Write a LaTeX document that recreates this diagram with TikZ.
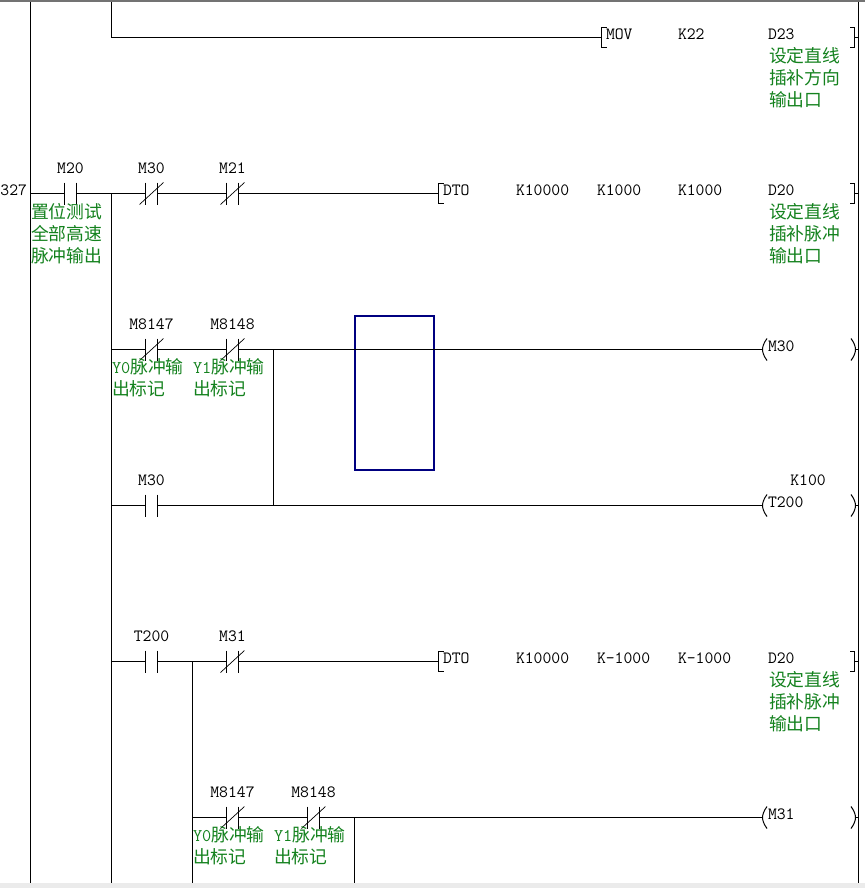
\documentclass[tikz,border=0pt]{standalone}
\usepackage{fontspec}
\newfontfamily\cjk{Noto Sans CJK SC}
\definecolor{note}{RGB}{20,130,30}
\definecolor{box}{RGB}{0,0,128}
\tikzset{
  wire/.style={line width=1pt,black},
  lbl/.style={font=\fontsize{17.2}{20}\ttfamily,inner sep=0pt,outer sep=0pt,text=black},
  cmt/.style={font=\fontsize{17.8}{22}\selectfont\cjk,text=note,inner sep=0pt,outer sep=0pt,align=left,anchor=west},
  cnt/.style={minimum width=12pt,minimum height=22pt,inner sep=0pt,outer sep=0pt}
}
% contact: name, x, y, label
\newcommand{\nocontact}[4]{
  \node [cnt] (#1) at (#2,#3) {};
  \draw [wire] (#1.north west) -- (#1.south west);
  \draw [wire] (#1.north east) -- (#1.south east);
  \node [lbl] (#1l) at (#2,#3-25) {#4};
}
\newcommand{\nccontact}[4]{
  \nocontact{#1}{#2}{#3}{#4}
  \draw [line width=0.7pt] ([xshift=-6pt]#1.south west) -- ([xshift=6pt]#1.north east);
}
% function box ends
\newcommand{\openbr}[3]{
  \coordinate (#1) at (#2,#3);
  \draw [wire] (#2+5,#3-10) -- (#2,#3-10) -- (#2,#3+10) -- (#2+5,#3+10);
}
\newcommand{\closebr}[1]{
  \draw [wire] (850,#1-10) -- (854.5,#1-10) -- (854.5,#1+10) -- (850,#1+10);
  \draw [wire] (854.5,#1) -- (858.5,#1);
}
\newcommand{\coil}[3]{
  \coordinate (#1) at (762.5,#2);
  \draw [wire] (767,#2-11) .. controls (764,#2-7) and (762.5,#2-3) .. (762.5,#2) .. controls (762.5,#2+3) and (764,#2+7) .. (767,#2+11);
  \draw [wire] (851,#2-11) .. controls (854,#2-7) and (855.5,#2-3) .. (855.5,#2) .. controls (855.5,#2+3) and (854,#2+7) .. (851,#2+11);
  \draw [wire] (855.5,#2) -- (858.5,#2);
  \node [lbl,anchor=west] (#1t) at (768,#2-3) {#3};
}
\begin{document}
\begin{tikzpicture}[x=1pt,y=-1pt]

\useasboundingbox (0,0) rectangle (865,888);
\fill [white] (0,0) rectangle (865,888);
\fill [black!55] (0,0) rectangle (865,2);
\fill [black!8] (0,883) rectangle (865,888);

% rails
\coordinate (railltop) at (30.5,2);
\coordinate (raillbot) at (30.5,883);
\coordinate (railrtop) at (858.5,2);
\coordinate (railrbot) at (858.5,883);
\draw [wire] (railltop) -- (raillbot);
\draw [wire] (railrtop) -- (railrbot);

% MOV rung
\coordinate (bustop) at (111.5,2);
\coordinate (buscorner) at (111.5,37.5);
\openbr{mov}{601.5}{37.5}
\draw [wire] (bustop) -- (buscorner) -- (mov);
\closebr{37.5}
\node [lbl,anchor=west] (movt) at (606,34) {MOV};
\node [lbl,anchor=west] (movs) at (678,34) {K22};
\node [lbl,anchor=west] (movd) at (768,34) {D23};
\node [cmt] (movc) at (769,78) {设定直线\\插补方向\\输出口};

% M20 rung
\node [lbl,anchor=east] (stepno) at (27,190) {327};
\coordinate (r2l) at (30.5,193.5);
\coordinate (r2j) at (111.5,193.5);
\coordinate (busbot) at (111.5,883);
\nocontact{mtwenty}{70.5}{193.5}{M20}
\nccontact{mthirty}{151.5}{193.5}{M30}
\nccontact{mtwone}{232.5}{193.5}{M21}
\openbr{dtoa}{438.5}{193.5}
\draw [wire] (r2l) -- (mtwenty.west);
\draw [wire] (mtwenty.east) -- (mthirty.west);
\draw [wire] (mthirty.east) -- (mtwone.west);
\draw [wire] (mtwone.east) -- (dtoa);
\draw [wire] (r2j) -- (busbot);
\closebr{193.5}
\node [cmt] (mtwentyc) at (31,234) {置位测试\\全部高速\\脉冲输出};
\node [lbl,anchor=west] (dtoat) at (443,190) {DTO};
\node [lbl,anchor=west] (dtoaa) at (516,190) {K10000};
\node [lbl,anchor=west] (dtoab) at (597,190) {K1000};
\node [lbl,anchor=west] (dtoac) at (678,190) {K1000};
\node [lbl,anchor=west] (dtoad) at (768,190) {D20};
\node [cmt] (dtoacm) at (769,234) {设定直线\\插补脉冲\\输出口};

% blue frame
\node [draw=box,line width=2pt,minimum width=79pt,minimum height=154pt,inner sep=0pt] (frame) at (394.5,393) {};

% M30 rung
\coordinate (r3l) at (111.5,349.5);
\coordinate (r3j) at (273.5,349.5);
\nccontact{yzero}{151.5}{349.5}{M8147}
\nccontact{yone}{232.5}{349.5}{M8148}
\coil{cmthirty}{349.5}{M30}
\draw [wire] (r3l) -- (yzero.west);
\draw [wire] (yzero.east) -- (yone.west);
\draw [wire] (yone.east) -- (cmthirty);
\node [cmt] (yzeroc) at (112,378) {{\ttfamily Y0}脉冲输\\出标记};
\node [cmt] (yonec) at (193,378) {{\ttfamily Y1}脉冲输\\出标记};

% T200 rung
\coordinate (r4l) at (111.5,505.5);
\coordinate (r4j) at (273.5,505.5);
\nocontact{mthirtyb}{151.5}{505.5}{M30}
\coil{ctwo}{505.5}{T200}
\draw [wire] (r4l) -- (mthirtyb.west);
\draw [wire] (mthirtyb.east) -- (ctwo);
\draw [wire] (r3j) -- (r4j);
\node [lbl] (kcent) at (808,480) {K100};

% second DTO rung
\coordinate (r5l) at (111.5,661.5);
\coordinate (r5j) at (192.5,661.5);
\coordinate (bustwo) at (192.5,883);
\nocontact{ttwo}{151.5}{661.5}{T200}
\nccontact{mthone}{232.5}{661.5}{M31}
\openbr{dtob}{438.5}{661.5}
\draw [wire] (r5l) -- (ttwo.west);
\draw [wire] (ttwo.east) -- (mthone.west);
\draw [wire] (mthone.east) -- (dtob);
\draw [wire] (r5j) -- (bustwo);
\closebr{661.5}
\node [lbl,anchor=west] (dtobt) at (443,658) {DTO};
\node [lbl,anchor=west] (dtoba) at (516,658) {K10000};
\node [lbl,anchor=west] (dtobb) at (597,658) {K-1000};
\node [lbl,anchor=west] (dtobc) at (678,658) {K-1000};
\node [lbl,anchor=west] (dtobd) at (768,658) {D20};
\node [cmt] (dtobcm) at (769,702) {设定直线\\插补脉冲\\输出口};

% M31 rung
\coordinate (r6l) at (192.5,817.5);
\coordinate (r6j) at (354.5,817.5);
\coordinate (r6b) at (354.5,883);
\nccontact{yzerob}{232.5}{817.5}{M8147}
\nccontact{yoneb}{313.5}{817.5}{M8148}
\coil{cmthone}{817.5}{M31}
\draw [wire] (r6l) -- (yzerob.west);
\draw [wire] (yzerob.east) -- (yoneb.west);
\draw [wire] (yoneb.east) -- (cmthone);
\draw [wire] (r6j) -- (r6b);
\node [cmt] (yzerobc) at (193,846) {{\ttfamily Y0}脉冲输\\出标记};
\node [cmt] (yonebc) at (274,846) {{\ttfamily Y1}脉冲输\\出标记};

\end{tikzpicture}
\end{document}
